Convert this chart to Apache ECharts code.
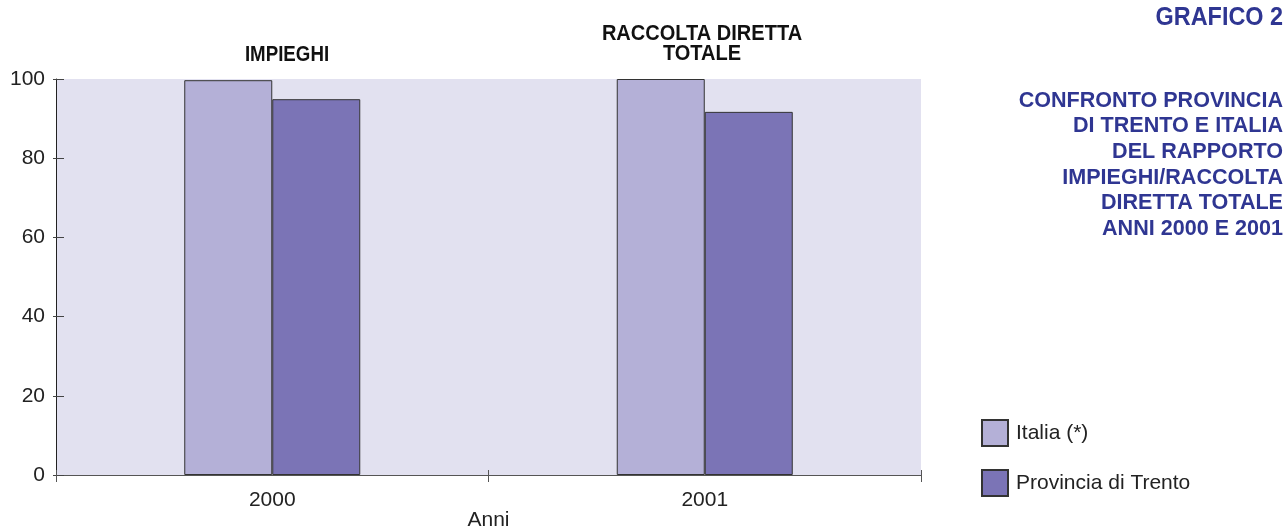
<!DOCTYPE html>
<html>
<head>
<meta charset="utf-8">
<script src="https://cdn.jsdelivr.net/npm/echarts@6/dist/echarts.min.js"></script>
<style>
  html, body { margin: 0; padding: 0; background: #ffffff; overflow: hidden; }
  #chart { width: 1287px; height: 529px; }
</style>
</head>
<body>
<div id="chart"></div>
<script>
const anni = ['2000', '2001']
const italia = [99.7, 100]
const trento = [94.9, 91.7]
const yTicks = [0, 20, 40, 60, 80, 100]
const sottotitolo = [
  'CONFRONTO PROVINCIA',
  'DI TRENTO E ITALIA',
  'DEL RAPPORTO',
  'IMPIEGHI/RACCOLTA',
  'DIRETTA TOTALE',
  'ANNI 2000 E 2001'
]

const font = 'Liberation Sans, Arial, sans-serif'
const blu = '#2f3692'

// testo in grassetto, un po' stretto come nel PDF
const testo = (text, x, y, size, color, align, lineHeight, narrow) => ({
  type: 'text',
  x: x,
  y: y,
  scaleX: narrow,
  silent: true,
  style: {
    text: text,
    x: 0,
    y: 0,
    fill: color,
    font: 'bold ' + size + 'px "Liberation Sans", Arial, sans-serif',
    textAlign: align,
    textVerticalAlign: 'top',
    lineHeight: lineHeight
  }
})

var myChart = echarts.init(document.getElementById('chart'))
var option = {
  animation: false,
  textStyle: { fontFamily: font },
  graphic: [
    testo('GRAFICO 2', 1283, 4, 26, blu, 'right', 28, 0.9),
    testo(sottotitolo.join('\n'), 1283, 88, 22, blu, 'right', 25.6, 0.98),
    testo('IMPIEGHI', 287, 44, 22, '#111', 'center', 22, 0.85),
    testo('RACCOLTA DIRETTA\nTOTALE', 702, 24, 22, '#111', 'center', 20, 0.91)
  ],
  legend: {
    orient: 'vertical',
    left: 976,
    top: 414,
    itemWidth: 26,
    itemHeight: 26,
    itemGap: 22,
    icon: 'rect',
    textStyle: { fontSize: 21, color: '#222', fontFamily: font, padding: [0, 0, 0, 3] },
    data: ['Italia (*)', 'Provincia di Trento']
  },
  grid: {
    left: 56,
    right: 366,
    top: 79,
    bottom: 54,
    show: true,
    backgroundColor: '#e2e1f0',
    borderWidth: 0,
    containLabel: false,
    outerBoundsMode: 'none'
  },
  xAxis: [
    {
      type: 'category',
      data: anni,
      position: 'bottom',
      name: 'Anni',
      nameLocation: 'middle',
      nameGap: 35,
      nameMoveOverlap: false,
      nameTextStyle: { fontSize: 21, color: '#222' },
      axisLine: { lineStyle: { color: '#555', width: 1 } },
      axisTick: { show: true, length: 7, lineStyle: { color: '#555' } },
      axisLabel: { fontSize: 21, color: '#222', margin: 15 },
      splitLine: { show: false }
    },
    {
      type: 'category',
      data: anni,
      position: 'bottom',
      axisLine: { show: false },
      axisTick: { show: true, inside: true, length: 5, lineStyle: { color: '#555' } },
      axisLabel: { show: false },
      splitLine: { show: false }
    }
  ],
  yAxis: [
    {
      type: 'value',
      position: 'left',
      min: yTicks[0],
      max: yTicks[yTicks.length - 1],
      interval: 20,
      axisLine: { show: true, lineStyle: { color: '#222' } },
      axisTick: { show: true, length: 3, lineStyle: { color: '#444' } },
      axisLabel: { fontSize: 21, color: '#222', margin: 11 },
      splitLine: { show: false }
    },
    {
      type: 'value',
      position: 'left',
      min: yTicks[0],
      max: yTicks[yTicks.length - 1],
      interval: 20,
      axisLine: { show: false },
      axisTick: { show: true, inside: true, length: 8, lineStyle: { color: '#444' } },
      axisLabel: { show: false },
      splitLine: { show: false }
    }
  ],
  series: [
    {
      name: 'Italia (*)',
      type: 'bar',
      data: italia,
      barWidth: 88,
      barGap: '0%',
      itemStyle: { color: '#b4b0d7', borderColor: '#333', borderWidth: 1 }
    },
    {
      name: 'Provincia di Trento',
      type: 'bar',
      data: trento,
      barWidth: 88,
      barGap: '0%',
      itemStyle: { color: '#7b74b6', borderColor: '#333', borderWidth: 1 }
    }
  ]
}
option && myChart.setOption(option)
</script>
</body>
</html>
